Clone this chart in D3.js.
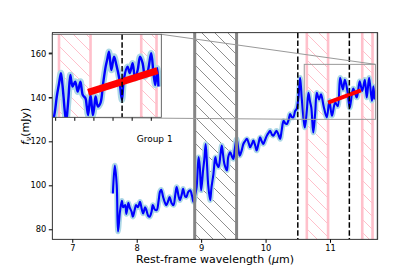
<!DOCTYPE html>
<html>
<head>
<meta charset="utf-8">
<script src="https://cdn.jsdelivr.net/npm/d3@7"></script>
<style>
  body { margin: 0; background: #fff; }
  text { font-family: "DejaVu Sans", sans-serif; }
</style>
</head>
<body>
<svg id="chart" width="420" height="270"></svg>
<script>
// spectrum
const wavelength = [
  7.63, 7.66, 7.69, 7.71, 7.74, 7.77, 7.79, 7.82, 7.84, 7.87, 7.89, 7.92, 7.94, 7.97, 7.99,
  8.02, 8.05, 8.08, 8.10, 8.13, 8.15, 8.18, 8.20, 8.23, 8.25, 8.28, 8.31, 8.34, 8.36, 8.38,
  8.41, 8.44, 8.46, 8.49, 8.51, 8.54, 8.57, 8.60, 8.62, 8.65, 8.67, 8.70, 8.72, 8.75, 8.77,
  8.80, 8.83, 8.86, 8.88, 8.91, 8.93, 8.96, 8.98, 9.00, 9.03, 9.05, 9.07, 9.09, 9.11, 9.14,
  9.16, 9.19, 9.22, 9.24, 9.27, 9.30, 9.32, 9.34, 9.36, 9.40, 9.42, 9.45, 9.48, 9.50, 9.52,
  9.55, 9.58, 9.60, 9.63, 9.655, 9.68, 9.71, 9.74, 9.76, 9.79, 9.81, 9.84, 9.86, 9.89, 9.915,
  9.94, 9.966, 9.99, 10.02, 10.05, 10.07, 10.10, 10.12, 10.15, 10.17, 10.20, 10.225, 10.25, 10.28, 10.31,
  10.33, 10.36, 10.38, 10.41, 10.43, 10.46, 10.48, 10.51, 10.536, 10.56, 10.59, 10.61, 10.64, 10.665, 10.69,
  10.71, 10.74, 10.77, 10.795, 10.83, 10.86, 10.90, 10.95, 10.99, 11.03, 11.08, 11.12, 11.157, 11.20, 11.23,
  11.27, 11.306, 11.36, 11.416, 11.46, 11.50, 11.54, 11.57, 11.607, 11.65, 11.674, 11.69
];
const flux = [
  96.3, 109, 100, 79, 88, 93, 90, 91, 87, 92, 90, 88, 85.7, 89, 91,
  90, 92.5, 89, 87.2, 90, 88.7, 86, 85.7, 88, 91, 89, 88.7, 93, 97, 98,
  94.7, 92, 91, 93, 94.7, 92, 91, 96, 99.2, 95, 93.2, 96, 98.4, 95, 94.7,
  97, 97.7, 95, 92.5, 96, 99.2, 112.8, 108, 97.7, 106.8, 112, 118.8, 110, 100, 93.2,
  99, 105, 112.8, 110, 108.3, 114, 118.1, 114, 109.8, 106.8, 112.8, 115, 113, 112, 116,
  121.1, 116, 113.5, 116, 118.8, 120, 121.1, 119, 117.3, 119, 120.3, 118, 115.8, 119, 121.8,
  120, 118.8, 120.5, 122.6, 124, 124.8, 123, 122.6, 124, 124.8, 123, 121.1, 125, 129.3, 128,
  127.9, 130, 132.4, 131, 130.9, 133.9, 134.6, 140, 148.9, 140, 130, 126.3, 134, 142.1, 138,
  135.3, 124, 133, 142.1, 139, 141.4, 136.1, 130.9, 138.4, 131.6, 137.7, 136, 148.9, 143.6, 148,
  142.9, 135.3, 144, 139.9, 147.3, 142.9, 148, 139.9, 148.9, 138.4, 145, 139
];

// spectrum as drawn in the zoomed inset
const insetWavelength = [
  10.571, 10.595, 10.617, 10.64, 10.66, 10.675, 10.688, 10.70, 10.716, 10.73, 10.74, 10.758, 10.77,
  10.783, 10.81, 10.836, 10.864, 10.889, 10.917, 10.93, 10.945, 10.97, 10.994, 11.01, 11.023, 11.047,
  11.075, 11.10, 11.128, 11.145, 11.163, 11.188, 11.216, 11.24, 11.27, 11.298, 11.32, 11.357, 11.38,
  11.41, 11.435, 11.463, 11.488, 11.515, 11.54, 11.568, 11.604, 11.628, 11.647, 11.668, 11.68
];
const insetFlux = [
  128, 133, 140.3, 146, 150.8, 146, 140, 134, 129, 135, 140.3, 150, 147,
  144.8, 147, 142.5, 147, 141, 139.5, 136, 132, 141, 132, 136, 140.3, 135.8,
  137.6, 145.7, 153.7, 157, 160.4, 152.2, 158.2, 154.5, 148.5, 138.8, 148.5, 153.7, 150.8,
  155.2, 148.5, 152.2, 158.2, 155.2, 149.2, 151.5, 159.7, 150.8, 145.5, 153, 144.8
];

const continuumMain = [[10.97, 137.6], [11.48, 143.2]];
const continuumInset = [[10.945, 142.2], [11.67, 151.9]];

const grayBand = [8.9, 9.55];
const pinkBands = [[10.64, 10.97], [11.5, 11.66]];
const dashedLines = [10.5, 11.3];
const edgeLine = 11.732;

const xTicks = [7, 8, 9, 10, 11];
const yTicks = [80, 100, 120, 140, 160];
const insetXTicks = [10.6, 10.8, 11.0, 11.2, 11.4, 11.6];
const insetYTicks = [140, 160];

const zoomX = [10.6, 11.705];
const zoomY = [130, 155];

const svg = d3.select('#chart');
const margin = {top: 32.7, right: 42.3, bottom: 30.7, left: 52.3};
const width = 420 - margin.left - margin.right;
const height = 270 - margin.top - margin.bottom;

const x = d3.scaleLinear().domain([6.69, 11.74]).range([margin.left, margin.left + width]);
const y = d3.scaleLinear().domain([75.45, 169.4]).range([margin.top + height, margin.top]);

const inset = {left: 52.3, right: 161.3, top: 34.3, bottom: 117.3};
const ix = d3.scaleLinear().domain([10.57, 11.71]).range([inset.left, inset.right]);
const iy = d3.scaleLinear().domain([131, 168.2]).range([inset.bottom, inset.top]);

const defs = svg.append('defs');
function hatch(id, color, w) {
  const s = 13;
  defs.append('pattern')
    .attr('id', id)
    .attr('patternUnits', 'userSpaceOnUse')
    .attr('width', s)
    .attr('height', s)
    .append('path')
    .attr('d', `M-1,-1L${s + 1},${s + 1}M-1,${s - 1}L1,${s + 1}M${s - 1},-1L${s + 1},1`)
    .attr('stroke', color)
    .attr('stroke-width', w);
}
hatch('hatchGray', '#6a6a6a', 0.75);
hatch('hatchPink', '#ffc0cb', 1);

defs.append('clipPath').attr('id', 'clipMain')
  .append('rect')
  .attr('x', margin.left).attr('y', margin.top)
  .attr('width', width).attr('height', height);
defs.append('clipPath').attr('id', 'clipInset')
  .append('rect')
  .attr('x', inset.left).attr('y', inset.top)
  .attr('width', inset.right - inset.left).attr('height', inset.bottom - inset.top);

function drawPanel(g, sx, sy, xs, ys, cont, opt) {
  const top = sy.range()[1];
  const bottom = sy.range()[0];

  pinkBands.forEach(([a, b]) => {
    g.append('rect')
      .attr('x', sx(a)).attr('y', top)
      .attr('width', sx(b) - sx(a)).attr('height', bottom - top)
      .attr('fill', 'url(#hatchPink)');
    [a, b].forEach((v) => {
      g.append('line')
        .attr('x1', sx(v)).attr('x2', sx(v))
        .attr('y1', top).attr('y2', bottom)
        .attr('stroke', '#ffc0cb')
        .attr('stroke-width', 2.6);
    });
  });

  const pts = xs.map((d, i) => [d, ys[i]]);
  const line = d3.line()
    .x((d) => sx(d[0]))
    .y((d) => sy(d[1]))
    .curve(d3.curveCatmullRom.alpha(0.5));

  g.append('path')
    .attr('d', line(pts))
    .attr('fill', 'none')
    .attr('stroke', '#add8e6')
    .attr('stroke-width', opt.band)
    .attr('stroke-linejoin', 'round');
  g.append('path')
    .attr('d', line(pts))
    .attr('fill', 'none')
    .attr('stroke', '#0000ff')
    .attr('stroke-width', opt.lw)
    .attr('stroke-linejoin', 'round');

  g.append('path')
    .attr('d', d3.line().x((d) => sx(d[0])).y((d) => sy(d[1]))(cont))
    .attr('stroke', '#ff0000')
    .attr('stroke-width', opt.red);

  dashedLines.forEach((v) => {
    g.append('line')
      .attr('x1', sx(v)).attr('x2', sx(v))
      .attr('y1', top).attr('y2', bottom)
      .attr('stroke', '#000')
      .attr('stroke-width', 1.5)
      .attr('stroke-dasharray', '5.5,2.4');
  });
}

// main panel
const main = svg.append('g').attr('clip-path', 'url(#clipMain)');

main.append('rect')
  .attr('x', x(grayBand[0])).attr('y', margin.top)
  .attr('width', x(grayBand[1]) - x(grayBand[0])).attr('height', height)
  .attr('fill', 'url(#hatchGray)');

drawPanel(main, x, y, wavelength, flux, continuumMain, {band: 5.5, lw: 2.1, red: 4});

grayBand.forEach((v) => {
  main.append('line')
    .attr('x1', x(v)).attr('x2', x(v))
    .attr('y1', margin.top).attr('y2', margin.top + height)
    .attr('stroke', '#858585')
    .attr('stroke-width', 3);
});

main.append('line')
  .attr('x1', x(edgeLine)).attr('x2', x(edgeLine))
  .attr('y1', margin.top).attr('y2', margin.top + height)
  .attr('stroke', '#cccccc')
  .attr('stroke-width', 2);

// zoom box and connectors
main.append('rect')
  .attr('x', x(zoomX[0])).attr('y', y(zoomY[1]))
  .attr('width', x(zoomX[1]) - x(zoomX[0])).attr('height', y(zoomY[0]) - y(zoomY[1]))
  .attr('fill', 'none')
  .attr('stroke', '#999')
  .attr('stroke-width', 1);
main.append('line')
  .attr('x1', inset.right).attr('y1', inset.top)
  .attr('x2', x(zoomX[1])).attr('y2', y(zoomY[1]))
  .attr('stroke', '#999').attr('stroke-width', 1);
main.append('line')
  .attr('x1', inset.left).attr('y1', inset.bottom)
  .attr('x2', x(zoomX[0])).attr('y2', y(zoomY[0]))
  .attr('stroke', '#999').attr('stroke-width', 1);

// axes
svg.append('g')
  .attr('transform', `translate(0,${margin.top + height})`)
  .call(d3.axisBottom(x).tickValues(xTicks).tickFormat(d3.format('d')).tickSize(3.5).tickPadding(2.5))
  .call((g) => g.select('.domain').remove())
  .call((g) => g.selectAll('text').attr('font-size', 8.3).attr('fill', '#000'));
svg.append('g')
  .attr('transform', `translate(${margin.left},0)`)
  .call(d3.axisLeft(y).tickValues(yTicks).tickSize(3.5).tickPadding(2.5))
  .call((g) => g.select('.domain').remove())
  .call((g) => g.selectAll('text').attr('font-size', 8.3).attr('fill', '#000'));

svg.append('rect')
  .attr('x', margin.left).attr('y', margin.top)
  .attr('width', width).attr('height', height)
  .attr('fill', 'none')
  .attr('stroke', '#000')
  .attr('stroke-width', 0.8);

// inset panel
svg.append('rect')
  .attr('x', inset.left).attr('y', inset.top)
  .attr('width', inset.right - inset.left).attr('height', inset.bottom - inset.top)
  .attr('fill', '#fff');
const ins = svg.append('g').attr('clip-path', 'url(#clipInset)');
drawPanel(ins, ix, iy, insetWavelength, insetFlux, continuumInset, {band: 6.5, lw: 2.4, red: 7});

svg.append('g')
  .attr('transform', `translate(0,${inset.bottom})`)
  .call(d3.axisBottom(ix).tickValues(insetXTicks).tickFormat('').tickSize(3.5))
  .call((g) => g.select('.domain').remove());
svg.append('g')
  .attr('transform', `translate(${inset.left},0)`)
  .call(d3.axisLeft(iy).tickValues(insetYTicks).tickFormat('').tickSize(3.5))
  .call((g) => g.select('.domain').remove());
svg.append('rect')
  .attr('x', inset.left).attr('y', inset.top)
  .attr('width', inset.right - inset.left).attr('height', inset.bottom - inset.top)
  .attr('fill', 'none')
  .attr('stroke', '#444')
  .attr('stroke-width', 0.8);

// labels
svg.append('text')
  .attr('x', 136.7).attr('y', 141.5)
  .attr('font-size', 9)
  .text('Group 1');

const xl = svg.append('text')
  .attr('x', margin.left + width / 2).attr('y', 263)
  .attr('text-anchor', 'middle')
  .attr('font-size', 11);
xl.append('tspan').text('Rest-frame wavelength (');
xl.append('tspan').attr('font-style', 'italic').text('μ');
xl.append('tspan').text('m)');

const yl = svg.append('text')
  .attr('transform', 'translate(29,145) rotate(-90)')
  .attr('font-size', 11);
yl.append('tspan').attr('font-style', 'italic').text('f');
yl.append('tspan').attr('font-style', 'italic').attr('font-size', 7.7).attr('dy', 2).text('ν');
yl.append('tspan').attr('dy', -2).text('(mJy)');
</script>
</body>
</html>
